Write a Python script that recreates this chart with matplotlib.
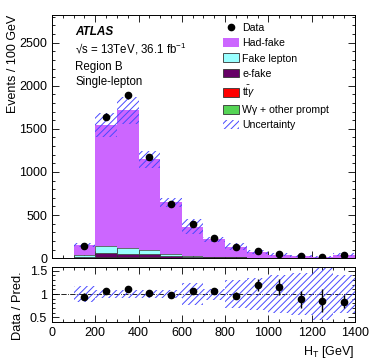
import numpy as np
import matplotlib
matplotlib.use("Agg")
import matplotlib.pyplot as plt
from matplotlib.patches import Patch
from matplotlib.lines import Line2D
from matplotlib.ticker import MultipleLocator, FixedLocator

plt.rcParams['font.family'] = ['Liberation Sans', 'DejaVu Sans']
plt.rcParams['mathtext.fontset'] = 'custom'
plt.rcParams['mathtext.rm'] = 'Liberation Sans'
plt.rcParams['mathtext.it'] = 'Liberation Sans:italic'
plt.rcParams['mathtext.bf'] = 'Liberation Sans:bold'
plt.rcParams['hatch.linewidth'] = 0.7

# ---------------- data ----------------
bin_edges = [100, 200, 300, 400, 500, 600, 700, 800, 900, 1000, 1100, 1200, 1300, 1400]
data = [143, 1643, 1888, 1171, 632, 392, 233, 128, 85, 47, 23, 12, 35]
had_fake = [120, 1397, 1603, 1048, 605, 341, 203, 122, 65, 36.5, 23.7, 12.7, 39.7]
fake_lepton = [22, 88, 65, 54, 20, 5, 3, 2, 1, 1, 0.5, 0.3, 0.5]
e_fake = [4, 40, 34, 31, 16, 12, 8, 5, 3, 2, 1, 0.5, 1]
ttgamma = [1, 3, 3, 3, 2, 2, 1, 1, 1, 0.5, 0.3, 0.2, 0.3]
wgamma = [4, 12, 10, 9, 5, 4, 3, 2, 1, 1, 0.5, 0.3, 0.5]
rel_unc = [0.17, 0.09, 0.09, 0.09, 0.08, 0.24, 0.12, 0.30, 0.35, 0.41, 0.45, 0.55, 0.40]

labels = ["Had-fake", "Fake lepton", "e-fake", r"$\mathrm{t\bar{t}}\gamma$", "W\u03b3 + other prompt"]
colors = ["#cc66ff", "#99ffff", "#660066", "#ff0000", "#55d455"]
hatch_color = "#4848ff"

edges = np.array(bin_edges, dtype=float)
centers = 0.5 * (edges[:-1] + edges[1:])
widths = np.diff(edges)

# stacking order bottom->top: Wgamma, ttgamma, e-fake, fake lepton, had-fake
stack_order = [wgamma, ttgamma, e_fake, fake_lepton, had_fake]
stack_colors = [colors[4], colors[3], colors[2], colors[1], colors[0]]

fig = plt.figure(figsize=(3.74, 3.59), dpi=100)
ax = fig.add_axes([0.139, 0.281, 0.810, 0.677])
axr = fig.add_axes([0.139, 0.103, 0.810, 0.153])

bottom = np.zeros(len(centers))
for vals, col in zip(stack_order, stack_colors):
    v = np.array(vals, dtype=float)
    ec = col if col == colors[0] else "#333333"
    lw = 0 if col == colors[0] else 0.5
    ax.bar(centers, v, width=widths, bottom=bottom, color=col, edgecolor=ec,
           linewidth=lw, zorder=2)
    bottom += v
total = bottom.copy()
unc = total * np.array(rel_unc)

ax.bar(centers, 2 * unc, width=widths, bottom=total - unc, facecolor="none",
       edgecolor=hatch_color, hatch="/////", linewidth=0, zorder=3)

d = np.array(data, dtype=float)
ax.errorbar(centers, d, yerr=np.sqrt(d), fmt="o", color="black", ms=4.5,
            elinewidth=1.0, capsize=0, zorder=5)

ax.set_xlim(0, 1400)
ax.set_ylim(0, 2820)
ax.xaxis.set_major_locator(MultipleLocator(200))
ax.xaxis.set_minor_locator(MultipleLocator(50))
ax.yaxis.set_major_locator(MultipleLocator(500))
ax.yaxis.set_minor_locator(MultipleLocator(100))
ax.tick_params(axis="x", labelbottom=False)
ax.set_ylabel("Events / 100 GeV", fontsize=9, loc="top")
ax.yaxis.set_label_coords(-0.109, 1.0)

for a in (ax, axr):
    a.tick_params(which="both", direction="in", top=True, right=True, labelsize=9)
    a.tick_params(which="major", length=5, width=0.6)
    a.tick_params(which="minor", length=2.5, width=0.6)
    for s in a.spines.values():
        s.set_linewidth(0.7)

ax.text(0.076, 0.93, "ATLAS", transform=ax.transAxes, fontsize=8.5,
        fontweight="bold", fontstyle="italic", va="center", ha="left")
ax.text(0.076, 0.862, "\u221as = 13TeV, 36.1 fb$^{-1}$", transform=ax.transAxes,
        fontsize=8.3, va="center", ha="left")
ax.text(0.076, 0.788, "Region B", transform=ax.transAxes, fontsize=8.3,
        va="center", ha="left")
ax.text(0.076, 0.726, "Single-lepton", transform=ax.transAxes, fontsize=8.3,
        va="center", ha="left")

handles = [Line2D([], [], marker="o", color="black", ls="none", ms=4.5)]
for lab, col in zip(labels, colors):
    if col == colors[0]:
        handles.append(Patch(facecolor=col, edgecolor=col, linewidth=0))
    else:
        handles.append(Patch(facecolor=col, edgecolor="#333333", linewidth=0.6))
handles.append(Patch(facecolor="none", edgecolor=hatch_color, hatch="/////", linewidth=0))
leg_labels = ["Data"] + labels + ["Uncertainty"]
ax.legend(handles, leg_labels, loc="upper left", bbox_to_anchor=(0.564, 0.967),
          frameon=False, fontsize=7.6, borderpad=0, borderaxespad=0,
          handlelength=1.5, handleheight=0.9, handletextpad=0.35,
          labelspacing=0.49)

# ---------------- ratio ----------------
ratio = d / total
ratio_err = np.sqrt(d) / total
r_unc = np.array(rel_unc)
axr.bar(centers, 2 * r_unc, width=widths, bottom=1 - r_unc, facecolor="none",
        edgecolor=hatch_color, hatch="/////", linewidth=0, zorder=2)
axr.axhline(1.0, color="black", ls="-.", lw=0.6, zorder=1)
axr.errorbar(centers, ratio, yerr=ratio_err, fmt="o", color="black", ms=4.5,
             elinewidth=1.0, capsize=0, zorder=5)
axr.set_xlim(0, 1400)
axr.set_ylim(0.4, 1.58)
axr.xaxis.set_major_locator(MultipleLocator(200))
axr.xaxis.set_minor_locator(MultipleLocator(50))
axr.yaxis.set_major_locator(FixedLocator([0.5, 1.0, 1.5]))
axr.yaxis.set_minor_locator(MultipleLocator(0.1))
axr.set_yticklabels(["0.5", "1", "1.5"])
axr.set_ylabel("Data / Pred.", fontsize=9.3)
axr.yaxis.set_label_coords(-0.094, 0.3)
axr.set_xlabel("H$_\\mathrm{T}$ [GeV]", fontsize=9, loc="right")

fig.savefig("out.png", dpi=100)
